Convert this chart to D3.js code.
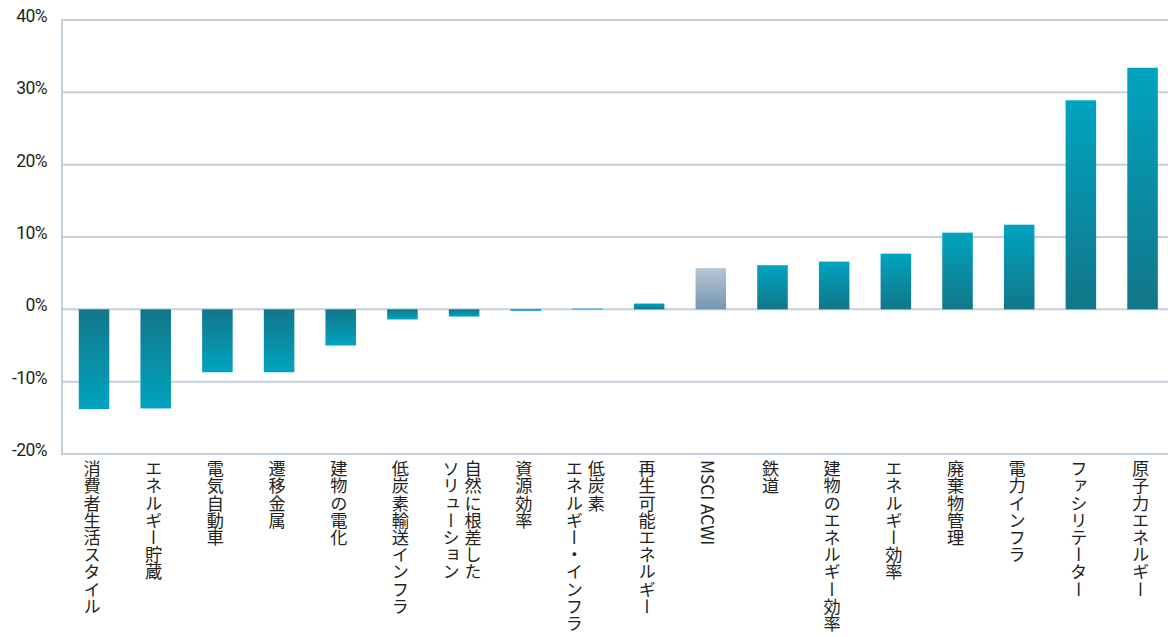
<!DOCTYPE html>
<html>
<head>
<meta charset="utf-8">
<script src="https://cdn.jsdelivr.net/npm/d3@7"></script>
<style>
  body { margin: 0; background: #fff; }
  svg { display: block; }
</style>
</head>
<body>
<svg width="1168" height="637"></svg>
<script>
// categories (multi-line labels split with "\n")
var categories = [
  "消費者生活スタイル", "エネルギー貯蔵", "電気自動車", "遷移金属", "建物の電化",
  "低炭素輸送インフラ", "自然に根差した\nソリューション", "資源効率",
  "低炭素\nエネルギー・インフラ", "再生可能エネルギー", "MSCI ACWI", "鉄道",
  "建物のエネルギー効率", "エネルギー効率", "廃棄物管理", "電力インフラ",
  "ファシリテーター", "原子力エネルギー"
];
var values = [
  -13.8, -13.7, -8.7, -8.7, -5.0,
  -1.4, -1.0, -0.2,
  0.1, 0.8, 5.7, 6.1,
  6.6, 7.7, 10.6, 11.7,
  28.9, 33.4
];
var benchmark = "MSCI ACWI";
var yTicks = [-20, -10, 0, 10, 20, 30, 40];

var svg = d3.select("svg"),
    width = +svg.attr("width"),
    height = +svg.attr("height");

var margin = {top: 20, right: 0, bottom: 183, left: 62};
var plotH = height - margin.top - margin.bottom;

// bars run a little past the right edge of the frame in the original
var x = d3.scaleBand()
  .domain(categories)
  .range([63.2, 1173.4])
  .paddingInner(0.505)
  .paddingOuter(0.2525);

var y = d3.scaleLinear()
  .domain([-20, 40])
  .range([margin.top + plotH, margin.top]);

var gridColor = "#c3d0dd";

// gradients
var defs = svg.append("defs");
function grad(id, top, bottom) {
  var g = defs.append("linearGradient").attr("id", id)
    .attr("x1", 0).attr("y1", 0).attr("x2", 0).attr("y2", 1);
  g.append("stop").attr("offset", "0%").attr("stop-color", top);
  g.append("stop").attr("offset", "100%").attr("stop-color", bottom);
}
grad("posGrad", "#00a4c0", "#127689");
grad("negGrad", "#127689", "#00a4c0");
grad("benchGrad", "#b6c6d5", "#7696b0");

// gridlines
svg.append("g")
  .selectAll("line")
  .data(yTicks)
  .enter().append("line")
    .attr("x1", margin.left)
    .attr("x2", width)
    .attr("y1", function(d) { return y(d); })
    .attr("y2", function(d) { return y(d); })
    .attr("stroke", gridColor)
    .attr("stroke-width", 2);

// left axis line
svg.append("line")
  .attr("x1", margin.left).attr("x2", margin.left)
  .attr("y1", y(40) - 1).attr("y2", y(-20) + 1)
  .attr("stroke", gridColor)
  .attr("stroke-width", 2);

// y labels
svg.append("g")
  .selectAll("text")
  .data(yTicks)
  .enter().append("text")
    .attr("x", 47)
    .attr("y", function(d) { return y(d); })
    .attr("dy", "0.12em")
    .attr("text-anchor", "end")
    .attr("font-family", "Roboto, 'Liberation Sans', sans-serif")
    .attr("font-size", 17.5)
    .attr("letter-spacing", -0.6)
    .attr("fill", "#231f20")
    .text(function(d) { return d + "%"; });

// bars
svg.append("g")
  .selectAll("rect")
  .data(categories)
  .enter().append("rect")
    .attr("x", function(d) { return x(d); })
    .attr("width", x.bandwidth())
    .attr("y", function(d, i) { return y(Math.max(0, values[i])); })
    .attr("height", function(d, i) { return Math.abs(y(values[i]) - y(0)); })
    .attr("fill", function(d, i) {
      if (d === benchmark) return "url(#benchGrad)";
      return values[i] >= 0 ? "url(#posGrad)" : "url(#negGrad)";
    });

// vertical category labels
var lineH = 22;
var labels = svg.append("g")
  .selectAll("g")
  .data(categories)
  .enter().append("g");

labels.each(function(d) {
  var lines = d.split("\n");
  var cx = x(d) + x.bandwidth() / 2 - 2;
  var n = lines.length;
  d3.select(this).selectAll("text")
    .data(lines)
    .enter().append("text")
      .attr("x", function(l, i) { return cx + ((n - 1) / 2 - i) * lineH; })
      .attr("y", y(-20) + 6)
      .style("writing-mode", "vertical-rl")
      .attr("font-family", "'Noto Sans CJK JP', sans-serif")
      .attr("font-size", 17.2)
      .attr("fill", "#231f20")
      .text(function(l) { return l; });
});
</script>
</body>
</html>
